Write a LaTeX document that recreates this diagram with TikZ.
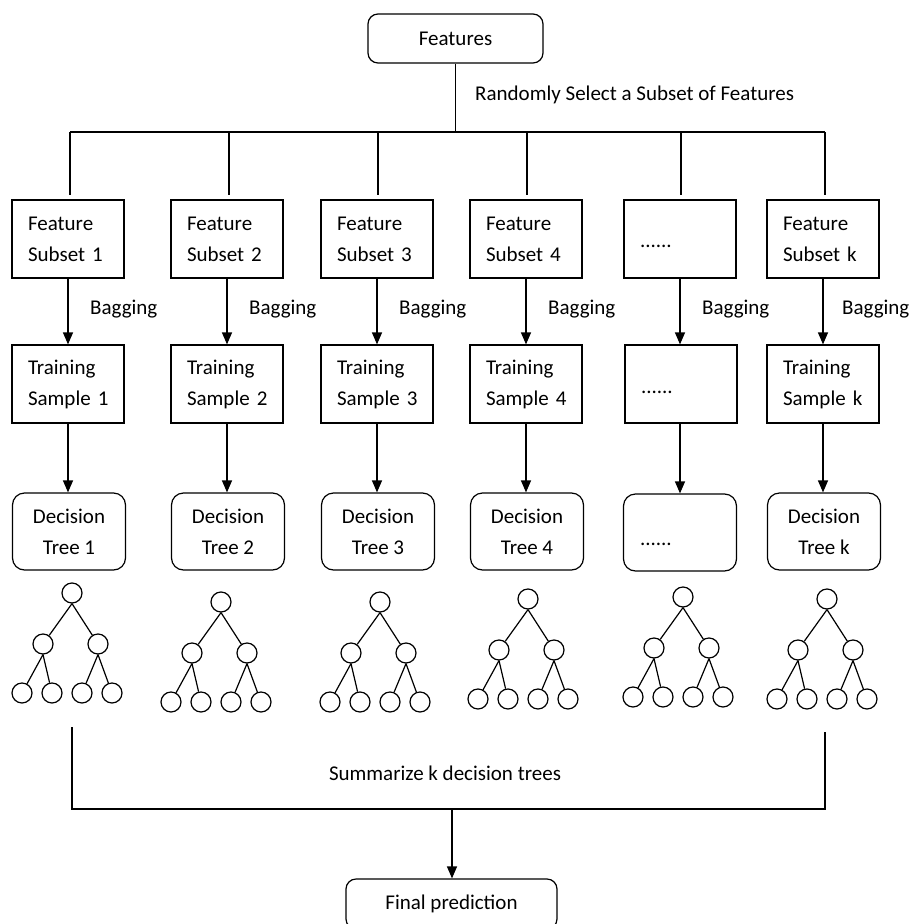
\documentclass[tikz,border=0pt]{standalone}
\usepackage{fontspec}
\setmainfont{Carlito}
\usetikzlibrary{arrows.meta,calc}
\tikzset{
  base/.style={draw, line width=1.2pt, font=\fontsize{21}{31}\selectfont},
  sqbox/.style={base, minimum width=112pt, minimum height=78pt, align=left, text width=80pt, inner xsep=16pt, inner ysep=0pt},
  rbox/.style={base, rounded corners=12pt, minimum width=113pt, minimum height=77pt, align=center, inner sep=0pt},
  leaf/.style={draw, line width=1.2pt, circle, minimum size=20pt, inner sep=0pt},
  edge/.style={line width=1.2pt},
  arr/.style={line width=1.2pt, -{Triangle[width=10pt,length=12pt]}},
  lbl/.style={font=\fontsize{21}{31}\selectfont, inner sep=0pt}
}
\newcommand{\dtree}[3]{%
  \node[leaf] (#1r) at (#2,#3) {};
  \node[leaf] (#1a) at ($(#1r)+(-29,51)$) {};
  \node[leaf] (#1b) at ($(#1r)+(26,51)$) {};
  \node[leaf] (#1c) at ($(#1r)+(-50,100)$) {};
  \node[leaf] (#1d) at ($(#1r)+(-20,100)$) {};
  \node[leaf] (#1e) at ($(#1r)+(10,100)$) {};
  \node[leaf] (#1f) at ($(#1r)+(40,100)$) {};
  \draw[edge] (#1r.south) -- (#1a);
  \draw[edge] (#1r.south) -- (#1b);
  \draw[edge] (#1a.south) -- (#1c);
  \draw[edge] (#1a.south) -- (#1d);
  \draw[edge] (#1b.south) -- (#1e);
  \draw[edge] (#1b.south) -- (#1f);
}
\begin{document}
\begin{tikzpicture}[x=1pt,y=-1pt]
\useasboundingbox (0,0) rectangle (910,924);
\clip (0,0) rectangle (910,924);

% top
\node[base, rounded corners=10pt, minimum width=175pt, minimum height=49pt, inner sep=0pt] (feat) at (455.5,38.5) {Features};
\node[lbl, anchor=base west] (rs) at (475,100.5) {Randomly Select a Subset of Features};

\coordinate (bl) at (70,132);
\coordinate (br) at (825,132);
\draw[edge] (feat.south) -- (feat.south |- bl);
\draw[edge] (bl) -- (br);

% columns
\foreach \i/\x/\fl/\tl/\dl in {
  1/68/{\mbox{Feature}\\\mbox{Subset 1}}/{\mbox{Training}\\\mbox{Sample 1}}/{Decision\\Tree 1},
  2/227/{\mbox{Feature}\\\mbox{Subset 2}}/{\mbox{Training}\\\mbox{Sample 2}}/{Decision\\Tree 2},
  3/377/{\mbox{Feature}\\\mbox{Subset 3}}/{\mbox{Training}\\\mbox{Sample 3}}/{Decision\\Tree 3},
  4/526/{\mbox{Feature}\\\mbox{Subset 4}}/{\mbox{Training}\\\mbox{Sample 4}}/{Decision\\Tree 4},
  6/823/{\mbox{Feature}\\\mbox{Subset k}}/{\mbox{Training}\\\mbox{Sample k}}/{Decision\\Tree k}}{
  \node[sqbox] (f\i) at (\x,239) {\fl};
  \node[sqbox] (t\i) at (\x,384) {\tl};
  \node[rbox] (d\i) at (\x+1,531.5) {\dl};
}
\node[sqbox] (f5) at (680,239) {\smash{\raisebox{-8pt}{......}}};
\node[sqbox] (t5) at (681,384) {\smash{\raisebox{-9pt}{......}}};
\node[rbox, align=left, text width=80pt, inner xsep=16pt] (d5) at (680,532.5) {\smash{\raisebox{-13pt}{......}}};

\foreach \i/\dx in {1/70,2/229,3/378,4/527,5/681,6/825}{
  \coordinate (u\i) at (\dx,132);
  \coordinate (v\i) at (\dx,195);
  \draw[edge] (u\i) -- (v\i);
}

\foreach \i/\x/\o in {1/68/22,2/227/22,3/377/22,4/526/22,5/680/22,6/823/19}{
  \draw[arr] (f\i.south -| \x,0) -- (t\i.north -| \x,0);
  \draw[arr] (t\i.south -| \x,0) -- (d\i.north -| \x,0);
  \node[lbl, anchor=base west] (bg\i) at (\x+\o,314) {Bagging};
}

% trees
\dtree{a}{72}{593}
\dtree{b}{221}{602}
\dtree{c}{380}{602}
\dtree{e}{528}{599}
\dtree{g}{683}{597}
\dtree{h}{827}{599}

% bottom
\coordinate (sl) at (72,727);
\coordinate (sl2) at (72,809);
\coordinate (sr) at (825,732);
\coordinate (sr2) at (825,809);
\draw[edge] (sl) -- (sl2) -- (sr2) -- (sr);
\node[lbl] (sum) at (445,773) {Summarize k decision trees};
\node[base, rounded corners=10pt, minimum width=211pt, minimum height=50pt, inner sep=0pt] (fin) at (451.5,904) {Final prediction};
\coordinate (sm) at (452,809);
\draw[arr] (sm) -- (sm |- fin.north);
\end{tikzpicture}
\end{document}
